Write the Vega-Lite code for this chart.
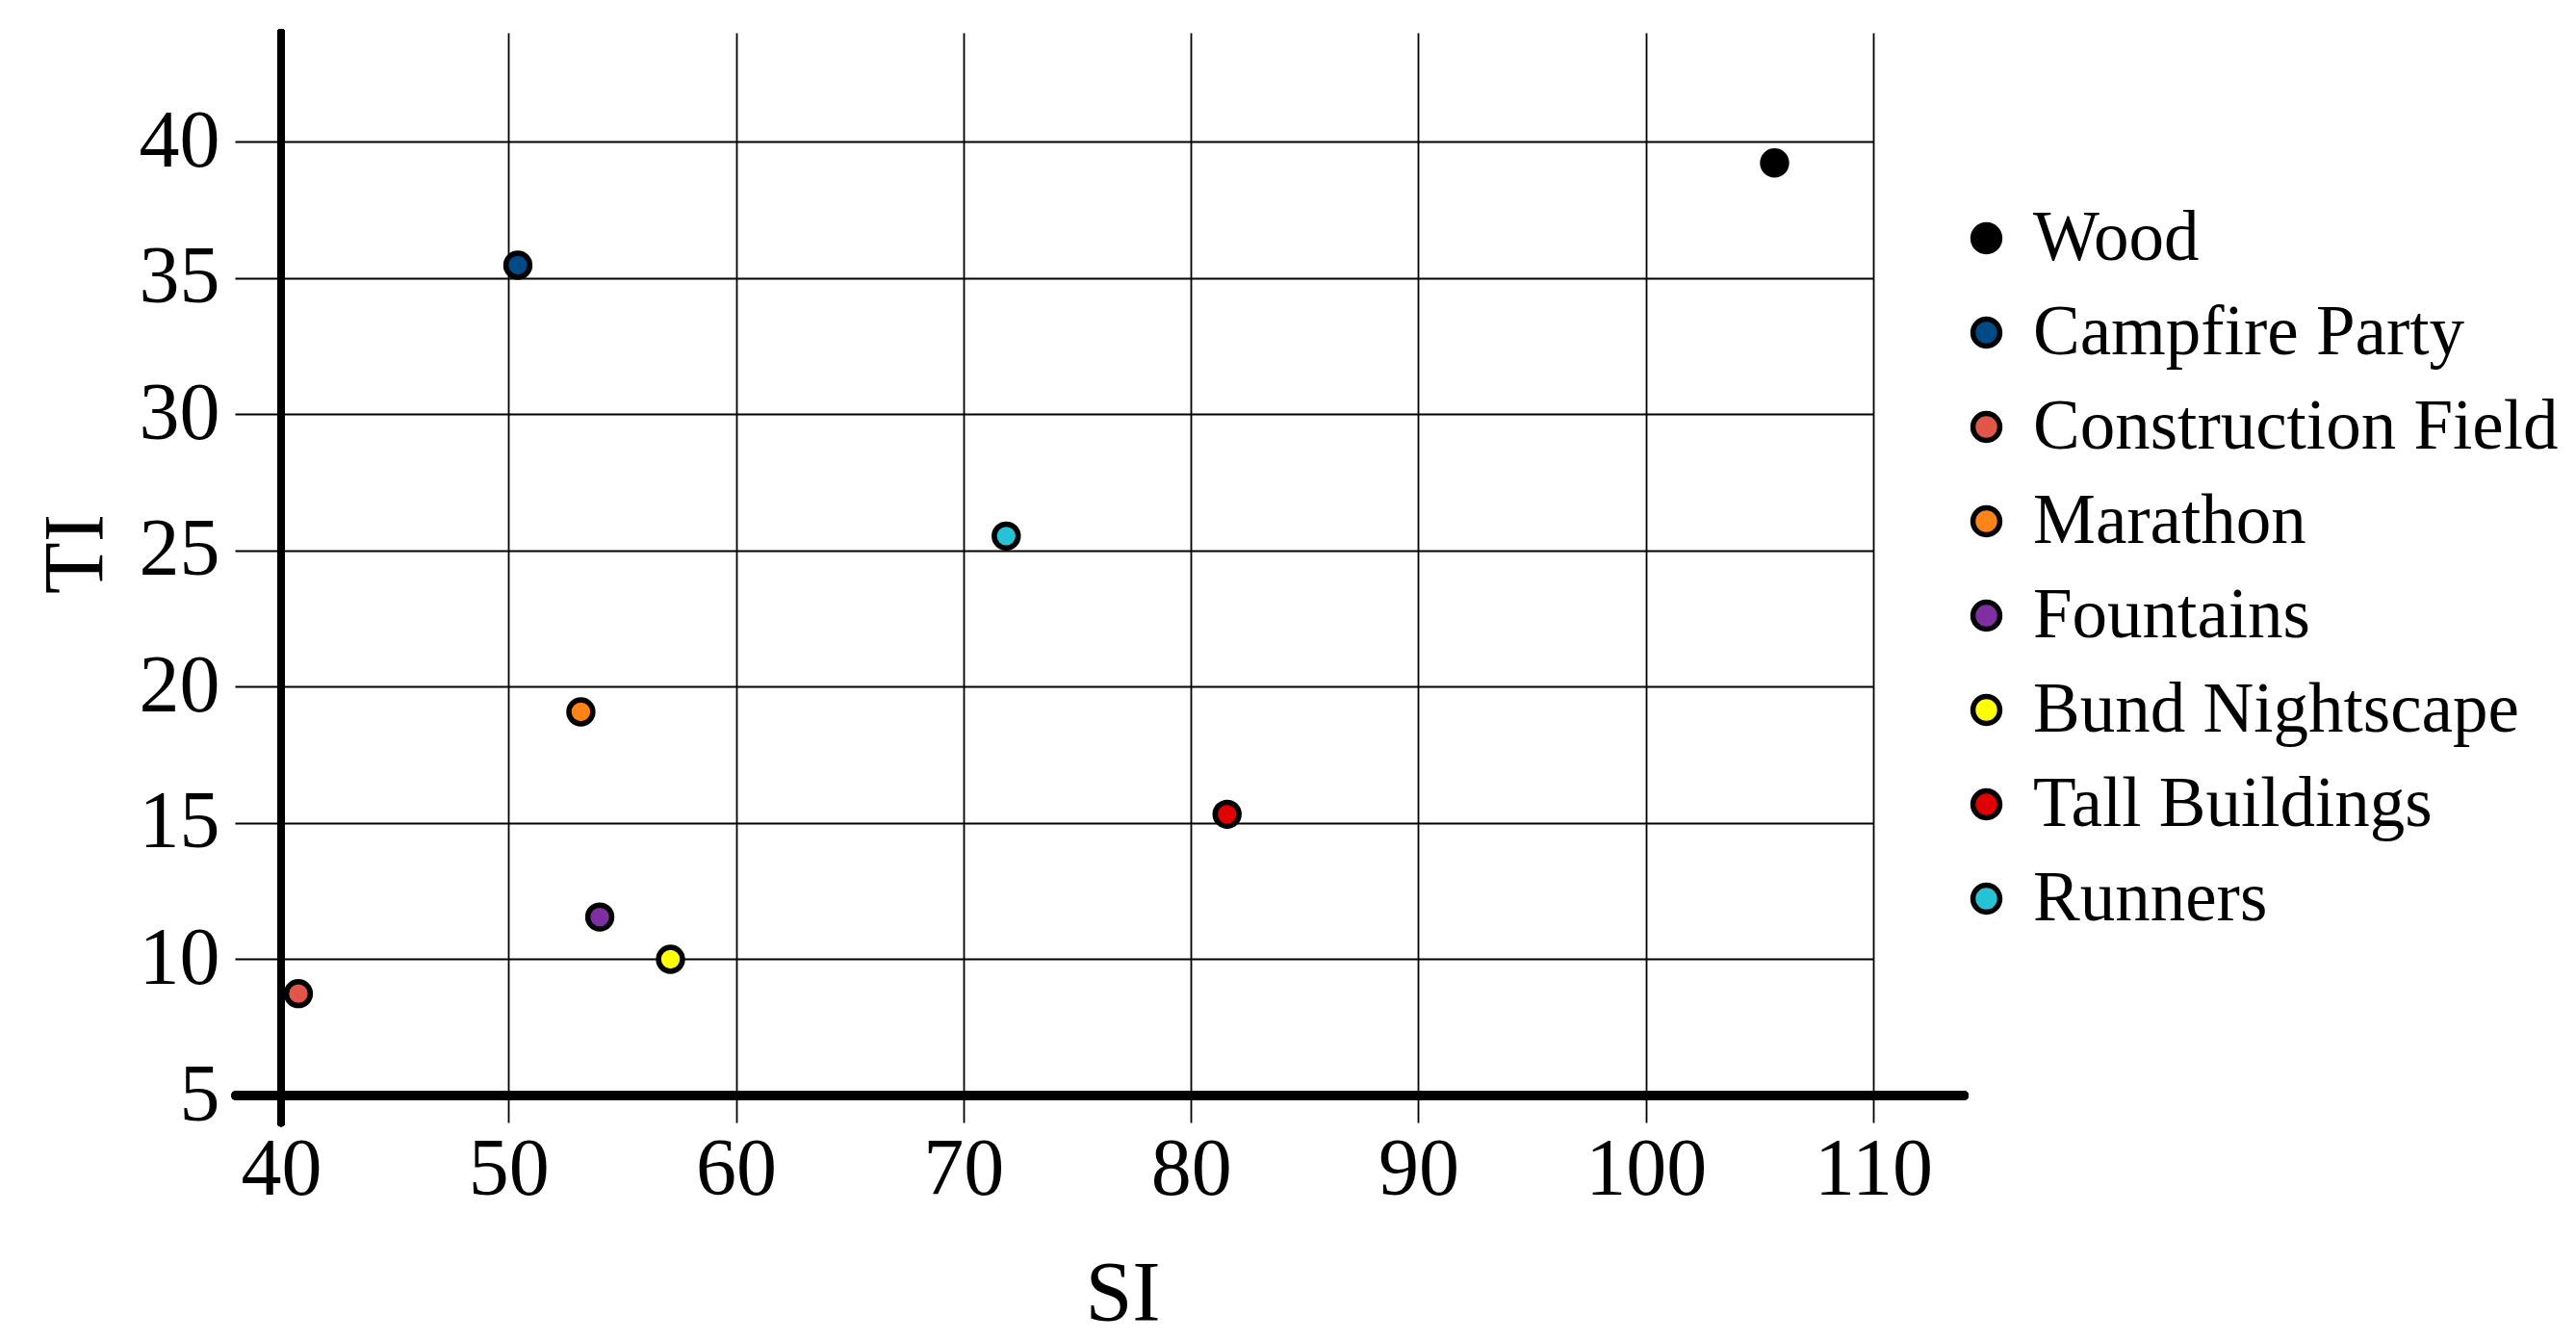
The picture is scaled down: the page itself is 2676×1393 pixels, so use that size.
{
  "$schema": "https://vega.github.io/schema/vega-lite/v6.json",
  "width": 1654,
  "height": 1104,
  "autosize": {"type": "none"},
  "padding": {"left": 292, "top": 34, "right": 730, "bottom": 255},
  "background": "white",
  "view": {"stroke": null},
  "config": {
    "font": "Liberation Serif",
    "axis": {
      "grid": true,
      "gridColor": "black",
      "gridWidth": 1.8,
      "gridOpacity": 1,
      "domain": false,
      "tickColor": "black",
      "tickWidth": 1.8,
      "labelColor": "black",
      "titleColor": "black",
      "labelFlush": false,
      "labelOverlap": false,
      "labelFont": "Liberation Serif",
      "titleFont": "Liberation Serif",
      "labelFontSize": 84,
      "titleFontSize": 88,
      "titleFontWeight": "normal"
    }
  },
  "data": {
    "values": [
      {"scene": "Wood", "SI": 105.66, "TI": 39.22},
      {"scene": "Campfire Party", "SI": 50.41, "TI": 35.47},
      {"scene": "Construction Field", "SI": 40.76, "TI": 8.74},
      {"scene": "Marathon", "SI": 53.18, "TI": 19.08},
      {"scene": "Fountains", "SI": 54.01, "TI": 11.55},
      {"scene": "Bund Nightscape", "SI": 57.12, "TI": 10.0},
      {"scene": "Tall Buildings", "SI": 81.59, "TI": 15.32},
      {"scene": "Runners", "SI": 71.88, "TI": 25.53}
    ]
  },
  "layer": [
    {
      "mark": {"type": "point", "filled": true, "shape": "circle", "size": 620, "stroke": "black", "strokeWidth": 5.5, "opacity": 1},
      "encoding": {
        "x": {
          "field": "SI",
          "type": "quantitative",
          "scale": {"domain": [40, 110], "nice": false, "zero": false},
          "axis": {
            "values": [40, 50, 60, 70, 80, 90, 100, 110],
            "tickSize": 28,
            "labelPadding": 8,
            "title": "SI",
            "titleX": 874,
            "titleY": 232,
            "titleAlign": "center",
            "titleBaseline": "alphabetic"
          }
        },
        "y": {
          "field": "TI",
          "type": "quantitative",
          "scale": {"domain": [5, 44], "nice": false, "zero": false},
          "axis": {
            "values": [5, 10, 15, 20, 25, 30, 35, 40],
            "tickSize": 48,
            "labelPadding": 16,
            "title": "TI",
            "titleX": -187,
            "titleY": 541,
            "titleAngle": -90,
            "titleAlign": "center",
            "titleBaseline": "alphabetic"
          }
        },
        "fill": {
          "field": "scene",
          "type": "nominal",
          "scale": {
            "domain": ["Wood", "Campfire Party", "Construction Field", "Marathon", "Fountains", "Bund Nightscape", "Tall Buildings", "Runners"],
            "range": ["#000000", "#004a87", "#e0574a", "#ff8418", "#7f2ea3", "#ffff00", "#e00000", "#26c2d6"]
          },
          "legend": {
            "title": null,
            "orient": "none",
            "legendX": 1735,
            "legendY": 177,
            "padding": 0,
            "symbolType": "circle",
            "symbolSize": 780,
            "symbolStrokeColor": "black",
            "symbolStrokeWidth": 5.5,
            "symbolOpacity": 1,
            "labelFont": "Liberation Serif",
            "labelFontSize": 73,
            "labelColor": "black",
            "labelOffset": 12,
            "rowPadding": 24,
            "labelLimit": 800
          }
        }
      }
    },
    {
      "mark": {"type": "rule", "color": "black", "strokeWidth": 8, "strokeCap": "round"},
      "encoding": {
        "x": {"datum": 40, "type": "quantitative"},
        "y": {"datum": 4, "type": "quantitative"},
        "y2": {"datum": 44}
      }
    },
    {
      "mark": {"type": "rule", "color": "black", "strokeWidth": 9, "strokeCap": "round"},
      "encoding": {
        "y": {"datum": 5, "type": "quantitative"},
        "x": {"datum": 38, "type": "quantitative"},
        "x2": {"datum": 114}
      }
    }
  ]
}
